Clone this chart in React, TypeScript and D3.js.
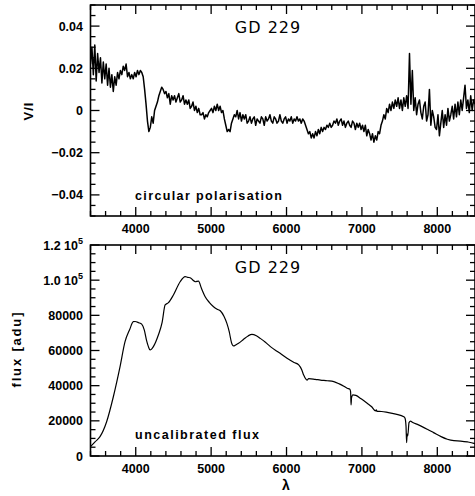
import React from "react";
import * as d3 from "d3";

// ---------- data ----------
const LAMBDA_RANGE: [number, number] = [3400, 8500];

// circular polarisation V/I (in units of 1e-3), evenly sampled over LAMBDA_RANGE
const VI_MILLI: number[] = [
  22, 30, 17, 31, 14, 27, 18, 25, 13, 23, 15, 22, 12, 20, 11, 17,
  9, 16, 12, 18, 15, 19, 17, 21, 19, 22, 16, 18, 15, 17, 15, 18, 16, 19, 17, 19, 18, 16,
  10, 3, -5, -10, -8, -3, -6, 0, 2, 4,
  7, 9, 11, 10, 8, 9, 6, 8, 3, 7,
  5, 7, 4, 6, 8, 4, 5, 7, 3, 5,
  3, 5, 1, 2, 4, 0, 2, -1, 1, -2,
  -2, -1, -4, -2, -3, -1, 0, 1, -1, 2,
  0, 3, 0, 2, -1, 0, -4, -7, -10, -9,
  -10, -6, -4, -2, -3, 0, -4, -1, -5, -2,
  -4, -2, -6, -5, -3, -6, -4, -3, -7, -4,
  -5, -6, -3, -4, -7, -3, -5, -4, -2, -5,
  -6, -3, -4, -6, -5, -2, -5, -6, -4, -3,
  -6, -4, -5, -3, -6, -4, -5, -3, -5, -4,
  -6, -4, -5, -7, -9, -11, -10, -13, -11, -13,
  -10, -12, -9, -11, -8, -10, -8, -9, -7, -8,
  -6, -8, -7, -5, -6, -4, -7, -5, -4, -7,
  -5, -8, -6, -5, -7, -8, -5, -6, -9, -6,
  -8, -6, -9, -7, -10, -7, -12, -9, -11, -14,
  -11, -15, -12, -14, -10, -11, -7, -5, -2, -4,
  1, -1, 3, 0, 4, 1, 5, 2, 6, 1,
  5, 0, 6, 2, 7, 1, 27, 3, 19, 0,
  6, -2, 3, 5, -1, -4, 2, 4, -5, -2,
  10, -7, 0, -3, -8, -9, -2, -12, -6, 0,
  -8, -2, -7, 1, -5, -2, 2, -4, 3, -3,
  4, -2, 5, 0, 6, 12, 1, 5, -1, 7,
  0, 5, 3,
];

// uncalibrated flux
const FLUX_LAMBDA: number[] = [
  3400, 3460, 3526, 3614, 3703, 3792, 3858, 3920, 3968, 3991, 4040, 4079, 4114, 4145, 4168, 4190,
  4210, 4234, 4300, 4350, 4390, 4434, 4500, 4589, 4655, 4690, 4722, 4760, 4789, 4833, 4870, 4921,
  4975, 5032, 5080, 5121, 5170, 5209, 5240, 5270, 5297, 5330, 5364, 5431, 5490, 5541, 5600, 5652,
  5720, 5786, 5900, 6007, 6100, 6162, 6200, 6227, 6272, 6294, 6380, 6450, 6540, 6627, 6700, 6760,
  6805, 6840, 6850, 6856, 6862, 6880, 6920, 6990, 7070, 7130, 7181, 7190, 7200, 7260, 7337, 7450,
  7556, 7572, 7585, 7593, 7600, 7608, 7625, 7645, 7668, 7750, 7867, 7950, 8050, 8133, 8220, 8310,
  8400, 8486, 8500,
];
const FLUX_VALUES: number[] = [
  5300, 8000, 11000, 19500, 33700, 50800, 65000, 72000, 76400, 76500, 75800, 75000, 71600, 65500, 62200, 60300,
  60800, 62200, 68800, 76000, 85900, 87200, 91600, 99100, 102000, 101600, 101400, 100000, 99100, 99500, 95500, 90600,
  87400, 84900, 83500, 82600, 79500, 75400, 70700, 64500, 62600, 63300, 64100, 66400, 68300, 69200, 68400, 66900,
  64700, 62200, 58800, 55600, 53200, 51800, 49200, 46100, 43200, 44000, 43600, 43200, 42800, 42300, 41000, 39700,
  38500, 38000, 36500, 29000, 33000, 34800, 34500, 32500, 30000, 28000, 25600, 26300, 25400, 25300, 24800, 23800,
  22300, 21500, 17000, 7600, 12500, 11500, 19000, 19800, 19200, 17700, 15200, 13300, 11000, 9500, 8700, 8500,
  8000, 7200, 7000,
];

const X_MAJOR_TICKS = [4000, 5000, 6000, 7000, 8000];
const VI_MAJOR_TICKS = [-0.04, -0.02, 0, 0.02, 0.04];
const VI_TICK_LABELS = ["\u22120.04", "\u22120.02", "0", "0.02", "0.04"];
const FLUX_MAJOR_TICKS = [0, 20000, 40000, 60000, 80000, 100000, 120000];
const FLUX_TICK_LABELS: [string, string | null][] = [
  ["0", null], ["20000", null], ["40000", null], ["60000", null], ["80000", null],
  ["1.0 10", "5"], ["1.2 10", "5"],
];

// ---------- layout ----------
const W = 475;
const H = 496;
const LEFT = 90.5;
const RIGHT = 475;
const TOP1 = 5, BOT1 = 216;
const TOP2 = 245, BOT2 = 456;
const MAJ = 9, MIN = 5;
const FONT = "'Liberation Sans', Arial, Helvetica, sans-serif";

type Panel = {
  top: number;
  bottom: number;
  y: d3.ScaleLinear<number, number>;
  yMajor: number[];
  yMinorStep: number;
};

function Frame({ p, x }: { p: Panel; x: d3.ScaleLinear<number, number> }) {
  const xMinor = d3.range(3400, 8500 + 1, 200).filter((v) => !X_MAJOR_TICKS.includes(v));
  const [y0, y1] = p.y.domain();
  const yMinor = d3
    .range(Math.round(y0 / p.yMinorStep), Math.round(y1 / p.yMinorStep) + 1)
    .map((k) => k * p.yMinorStep)
    .filter((v) => !p.yMajor.some((m) => Math.abs(m - v) < p.yMinorStep / 10));
  const lines: JSX.Element[] = [];
  let k = 0;
  const push = (x1: number, y1: number, x2: number, y2: number) =>
    lines.push(<line key={k++} x1={x1} y1={y1} x2={x2} y2={y2} />);
  X_MAJOR_TICKS.forEach((v) => {
    const xx = x(v);
    push(xx, p.bottom, xx, p.bottom - MAJ);
    push(xx, p.top, xx, p.top + MAJ);
  });
  xMinor.forEach((v) => {
    const xx = x(v);
    push(xx, p.bottom, xx, p.bottom - MIN);
    push(xx, p.top, xx, p.top + MIN);
  });
  p.yMajor.forEach((v) => {
    const yy = p.y(v);
    push(LEFT, yy, LEFT + MAJ, yy);
    push(RIGHT, yy, RIGHT - MAJ, yy);
  });
  yMinor.forEach((v) => {
    const yy = p.y(v);
    push(LEFT, yy, LEFT + MIN, yy);
    push(RIGHT, yy, RIGHT - MIN, yy);
  });
  return (
    <g stroke="#000" strokeWidth={1.3} fill="none">
      <rect x={LEFT} y={p.top} width={RIGHT - LEFT} height={p.bottom - p.top} strokeWidth={1.6} />
      {lines}
    </g>
  );
}

function XLabels({ x, axisY }: { x: d3.ScaleLinear<number, number>; axisY: number }) {
  return (
    <g fontFamily={FONT} fontWeight="bold" fontSize={12.5} textAnchor="middle">
      {X_MAJOR_TICKS.map((v) => (
        <text key={v} x={x(v)} y={axisY + 17}>
          {String(v)}
        </text>
      ))}
    </g>
  );
}

export default function App() {
  const x = d3.scaleLinear().domain(LAMBDA_RANGE).range([LEFT, RIGHT]);
  const y1 = d3.scaleLinear().domain([-0.05, 0.05]).range([BOT1, TOP1]);
  const y2 = d3.scaleLinear().domain([0, 120000]).range([BOT2, TOP2]);

  const step = (LAMBDA_RANGE[1] - LAMBDA_RANGE[0]) / (VI_MILLI.length - 1);
  const viPoints: [number, number][] = VI_MILLI.map((v, i) => [LAMBDA_RANGE[0] + i * step, v / 1000]);
  const viLine = d3
    .line<[number, number]>()
    .x((d) => x(d[0]))
    .y((d) => y1(d[1]));

  const fluxPoints: [number, number][] = FLUX_LAMBDA.map((l, i) => [l, FLUX_VALUES[i]]);
  const fluxLine = d3
    .line<[number, number]>()
    .x((d) => x(d[0]))
    .y((d) => y2(d[1]))
    .curve(d3.curveMonotoneX);

  const p1: Panel = { top: TOP1, bottom: BOT1, y: y1, yMajor: VI_MAJOR_TICKS, yMinorStep: 0.005 };
  const p2: Panel = { top: TOP2, bottom: BOT2, y: y2, yMajor: FLUX_MAJOR_TICKS, yMinorStep: 5000 };

  return (
    <svg
      width={W}
      height={H}
      viewBox={`0 0 ${W} ${H}`}
      style={{ position: "absolute", left: 0, top: 0, background: "#fff" }}
    >
      <rect x={0} y={0} width={W} height={H} fill="#fff" />
      <defs>
        <clipPath id="c1">
          <rect x={LEFT} y={TOP1} width={RIGHT - LEFT} height={BOT1 - TOP1} />
        </clipPath>
        <clipPath id="c2">
          <rect x={LEFT} y={TOP2} width={RIGHT - LEFT} height={BOT2 - TOP2} />
        </clipPath>
      </defs>

      {/* top panel */}
      <path d={viLine(viPoints) || ""} fill="none" stroke="#000" strokeWidth={1.5} strokeLinejoin="round" clipPath="url(#c1)" />
      <Frame p={p1} x={x} />
      <XLabels x={x} axisY={BOT1} />
      <g fontFamily={FONT} fontWeight="bold" fontSize={12.5} textAnchor="end">
        {VI_MAJOR_TICKS.map((v, i) => (
          <text key={v} x={83} y={y1(v) + 4.5}>
            {VI_TICK_LABELS[i]}
          </text>
        ))}
      </g>
      <text
        transform={`translate(33,111) rotate(-90)`}
        textAnchor="middle"
        fontFamily={FONT}
        fontWeight="bold"
        fontSize={13}
        letterSpacing={1}
      >
        V/I
      </text>
      <text x={268} y={33} textAnchor="middle" fontFamily="'DejaVu Sans', sans-serif" fontSize={16} letterSpacing={1}>
        GD 229
      </text>
      <text x={135} y={200} fontFamily={FONT} fontWeight="bold" fontSize={12.5} textLength={147} lengthAdjust="spacing">
        circular polarisation
      </text>

      {/* bottom panel */}
      <path d={fluxLine(fluxPoints) || ""} fill="none" stroke="#000" strokeWidth={1.2} clipPath="url(#c2)" />
      <Frame p={p2} x={x} />
      <XLabels x={x} axisY={BOT2} />
      <g fontFamily={FONT} fontWeight="bold" fontSize={12.5} textAnchor="end">
        {FLUX_MAJOR_TICKS.map((v, i) => {
          const [main, sup] = FLUX_TICK_LABELS[i];
          return (
            <text key={v} x={83} y={y2(v) + 4.5}>
              {main}
              {sup ? (
                <tspan dy={-6} fontSize={9}>
                  {sup}
                </tspan>
              ) : null}
            </text>
          );
        })}
      </g>
      <text
        transform={`translate(21,350) rotate(-90)`}
        textAnchor="middle"
        fontFamily={FONT}
        fontWeight="bold"
        fontSize={13}
        textLength={75}
        lengthAdjust="spacing"
      >
        flux [adu]
      </text>
      <text x={268} y={273} textAnchor="middle" fontFamily="'DejaVu Sans', sans-serif" fontSize={16} letterSpacing={1}>
        GD 229
      </text>
      <text x={135} y={439} fontFamily={FONT} fontWeight="bold" fontSize={12.5} textLength={124} lengthAdjust="spacing">
        uncalibrated flux
      </text>
      <text x={286} y={490} textAnchor="middle" fontFamily={FONT} fontWeight="bold" fontSize={14}>
        λ
      </text>
    </svg>
  );
}
